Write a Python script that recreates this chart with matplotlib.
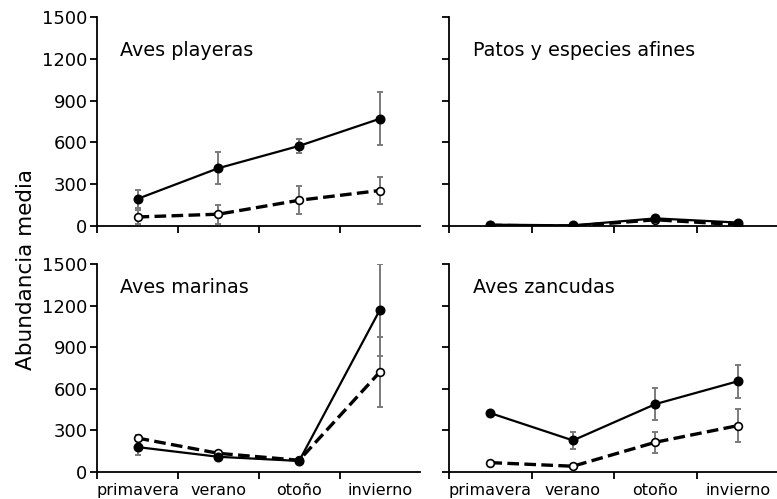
import numpy as np
import matplotlib
matplotlib.use("Agg")
import matplotlib.pyplot as plt

plt.rcParams['font.family'] = ['DejaVu Sans']

seasons = ["primavera", "verano", "otoño", "invierno"]
yticks = [0, 300, 600, 900, 1200, 1500]

groups = ["Aves playeras", "Patos y especies afines", "Aves marinas", "Aves zancudas"]

# filled circles, solid line
solid_mean = {
    "Aves playeras": [195, 415, 575, 770],
    "Patos y especies afines": [10, 5, 55, 25],
    "Aves marinas": [180, 110, 80, 1170],
    "Aves zancudas": [425, 228, 490, 655],
}
solid_err = {
    "Aves playeras": [62, 115, 50, 192],
    "Patos y especies afines": [5, 5, 12, 10],
    "Aves marinas": [55, 20, 15, 330],
    "Aves zancudas": [15, 62, 118, 118],
}
# open circles, dashed line
dashed_mean = {
    "Aves playeras": [65, 85, 185, 255],
    "Patos y especies afines": [5, 0, 45, 10],
    "Aves marinas": [245, 135, 85, 722],
    "Aves zancudas": [68, 42, 215, 335],
}
dashed_err = {
    "Aves playeras": [48, 68, 102, 98],
    "Patos y especies afines": [5, 3, 10, 6],
    "Aves marinas": [20, 15, 10, 252],
    "Aves zancudas": [8, 6, 75, 120],
}

fig = plt.figure(figsize=(7.77, 4.99), dpi=100)

positions = {
    "Aves playeras": [0.125, 0.547, 0.416, 0.419],
    "Patos y especies afines": [0.578, 0.547, 0.425, 0.419],
    "Aves marinas": [0.125, 0.054, 0.416, 0.417],
    "Aves zancudas": [0.578, 0.054, 0.425, 0.417],
}
title_y = {
    "Aves playeras": 0.842,
    "Patos y especies afines": 0.842,
    "Aves marinas": 0.885,
    "Aves zancudas": 0.885,
}

x = np.arange(len(seasons)) + 0.5
err_color = "#7a7a7a"

for g in groups:
    ax = fig.add_axes(positions[g])
    ax.errorbar(x, solid_mean[g], yerr=solid_err[g], fmt="none",
                ecolor=err_color, elinewidth=1.4, capsize=2.4, capthick=1.4, zorder=2)
    ax.errorbar(x, dashed_mean[g], yerr=dashed_err[g], fmt="none",
                ecolor=err_color, elinewidth=1.4, capsize=2.4, capthick=1.4, zorder=2)
    ax.plot(x, dashed_mean[g], color="black", lw=2.4, ls=(0, (3.5, 1.6)),
            marker="o", ms=5.6, mfc="white", mec="black", mew=1.2, zorder=3)
    ax.plot(x, solid_mean[g], color="black", lw=1.6, ls="-",
            marker="o", ms=6.2, mfc="black", mec="black", zorder=4)

    ax.set_xlim(0, 4)
    ax.set_ylim(0, 1500)
    ax.set_yticks(yticks)
    ax.set_xticks([0, 1, 2, 3])
    ax.set_xticklabels([])
    for side in ("top", "right"):
        ax.spines[side].set_visible(False)
    for side in ("left", "bottom"):
        ax.spines[side].set_linewidth(1.3)
    ax.tick_params(axis="both", direction="out", length=5, width=1.3)
    ax.tick_params(axis="y", pad=2, labelsize=13)

    if g in ("Aves playeras", "Aves marinas"):
        ax.set_yticklabels([str(v) for v in yticks])
    else:
        ax.set_yticklabels([])

    if g in ("Aves marinas", "Aves zancudas"):
        ax.set_xticks(x, minor=True)
        ax.set_xticklabels(seasons, minor=True)
        ax.tick_params(axis="x", which="minor", length=0, labelsize=11.5, pad=8)

    ax.text(0.071, title_y[g], g, transform=ax.transAxes, fontsize=13.8,
            ha="left", va="center")

fig.text(0.033, 0.459, "Abundancia media", rotation=90, fontsize=15.5,
         ha="center", va="center")

fig.savefig("out.png", dpi=100)
